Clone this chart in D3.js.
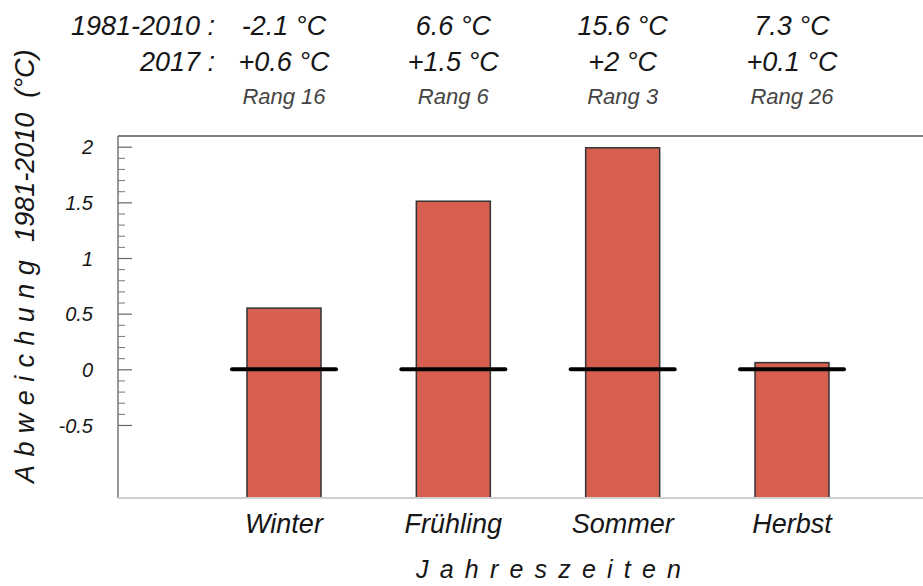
<!DOCTYPE html>
<html>
<head>
<meta charset="utf-8">
<script src="https://cdn.jsdelivr.net/npm/d3@7"></script>
<style>
  body { margin: 0; background: #fff; }
  svg text { font-family: "Liberation Sans", Arial, sans-serif; font-style: italic; fill: #161616; }
</style>
</head>
<body>
<div id="chart"></div>
<script>
// Seasonal temperature anomalies 2017 vs. 1981-2010

const seasons   = ["Winter", "Frühling", "Sommer", "Herbst"];
const anomaly   = [0.55, 1.51, 1.99, 0.06];             // deviation 2017 (°C), bar heights
const normal    = ["-2.1", "6.6", "15.6", "7.3"];       // 1981-2010 mean (°C)
const value2017 = ["+0.6", "+1.5", "+2", "+0.1"];       // 2017 deviation as printed
const ranks     = [16, 6, 3, 26];
const yTicks    = [-0.5, 0, 0.5, 1, 1.5, 2];

const width = 923, height = 586;
const plot = { left: 118, right: 923, top: 136, bottom: 498 };

const svg = d3.select('#chart').append('svg')
              .attr('width', width)
              .attr('height', height);

// --- Scales ---
const y = d3.scaleLinear()
            .domain([-1.156, 2.096])
            .range([plot.bottom, plot.top]);

const x = d3.scalePoint()
            .domain(seasons)
            .range([284, 792]);

const barWidth = 74;
const zeroHalf = 52;                                     // half length of the black zero marker

// --- Frame ---
svg.append('line').attr('x1', plot.left).attr('x2', plot.right).attr('y1', plot.top).attr('y2', plot.top)
   .attr('stroke', '#555').attr('stroke-width', 1.5);
svg.append('line').attr('x1', plot.left).attr('x2', plot.left).attr('y1', plot.top).attr('y2', plot.bottom)
   .attr('stroke', '#555').attr('stroke-width', 1.2);

// --- Y axis: major + minor ticks ---
const minor = d3.range(-5, 21).map(d => d / 10).filter(d => !yTicks.includes(d));
svg.append('g')
   .attr('transform', 'translate(' + plot.left + ',0)')
   .call(d3.axisRight(y).tickValues(minor).tickSize(7).tickFormat(''))
   .call(g => g.select('.domain').remove())
   .call(g => g.selectAll('line').attr('stroke', '#777').attr('stroke-width', 1));

const yAxis = svg.append('g')
   .attr('transform', 'translate(' + plot.left + ',0)')
   .call(d3.axisRight(y).tickValues(yTicks).tickSize(14).tickFormat(d => String(d)))
   .call(g => g.select('.domain').remove());
yAxis.selectAll('line').attr('stroke', '#666').attr('stroke-width', 1.2);
yAxis.selectAll('text')
     .attr('x', 93 - plot.left)
     .attr('dy', '0.36em')
     .style('text-anchor', 'end')
     .style('font-size', '20px')
     .style('font-family', '"Liberation Sans", Arial, sans-serif')
     .style('font-style', 'italic')
     .attr('fill', '#1a1a1a');

// --- Bars (drawn from the bottom of the plot) ---
svg.selectAll('rect.bar')
   .data(seasons)
   .enter()
   .append('rect')
   .attr('class', 'bar')
   .attr('x', d => x(d) - barWidth / 2)
   .attr('width', barWidth)
   .attr('y', (d, i) => y(anomaly[i]))
   .attr('height', (d, i) => y.range()[0] - y(anomaly[i]))
   .attr('fill', '#D65F4F')
   .attr('stroke', '#333')
   .attr('stroke-width', 1.5);

// bottom axis line (light grey)
svg.append('line').attr('x1', plot.left).attr('x2', plot.right).attr('y1', plot.bottom).attr('y2', plot.bottom)
   .attr('stroke', '#cfcfcf').attr('stroke-width', 2);

// zero markers
svg.selectAll('line.zero')
   .data(seasons)
   .enter()
   .append('line')
   .attr('class', 'zero')
   .attr('x1', d => x(d) - zeroHalf)
   .attr('x2', d => x(d) + zeroHalf)
   .attr('y1', y(0))
   .attr('y2', y(0))
   .attr('stroke', '#000')
   .attr('stroke-width', 4)
   .attr('stroke-linecap', 'round');

// --- X labels ---
svg.selectAll('text.season')
   .data(seasons)
   .enter()
   .append('text')
   .attr('class', 'season')
   .attr('x', d => x(d))
   .attr('y', 533)
   .attr('text-anchor', 'middle')
   .style('font-size', '27px')
   .text(d => d);

svg.append('text')
   .attr('x', 416)
   .attr('y', 578)
   .style('font-size', '25px')
   .style('letter-spacing', '11.2px')
   .text('Jahreszeiten');

// --- Y title ---
const yTitle = svg.append('text')
   .attr('transform', 'translate(34,483) rotate(-90)')
   .style('font-size', '27px');
yTitle.append('tspan').style('letter-spacing', '8.4px').text('Abweichung');
yTitle.append('tspan').attr('dx', 10).text('1981-2010');
yTitle.append('tspan').attr('dx', 15).text('(°C)');

// --- Header rows ---
svg.append('text').attr('x', 215).attr('y', 35).attr('text-anchor', 'end')
   .style('font-size', '27px').text('1981-2010 :');
svg.append('text').attr('x', 215).attr('y', 71).attr('text-anchor', 'end')
   .style('font-size', '27px').text('2017 :');

svg.selectAll('text.normal')
   .data(seasons)
   .enter()
   .append('text')
   .attr('x', d => x(d))
   .attr('y', 35)
   .attr('text-anchor', 'middle')
   .style('font-size', '27px')
   .text((d, i) => normal[i] + ' °C');

svg.selectAll('text.v2017')
   .data(seasons)
   .enter()
   .append('text')
   .attr('x', d => x(d))
   .attr('y', 71)
   .attr('text-anchor', 'middle')
   .style('font-size', '27px')
   .text((d, i) => value2017[i] + ' °C');

svg.selectAll('text.rank')
   .data(seasons)
   .enter()
   .append('text')
   .attr('x', d => x(d))
   .attr('y', 104)
   .attr('text-anchor', 'middle')
   .style('font-size', '22px')
   .style('fill', '#444')
   .text((d, i) => 'Rang ' + ranks[i]);
</script>
</body>
</html>
